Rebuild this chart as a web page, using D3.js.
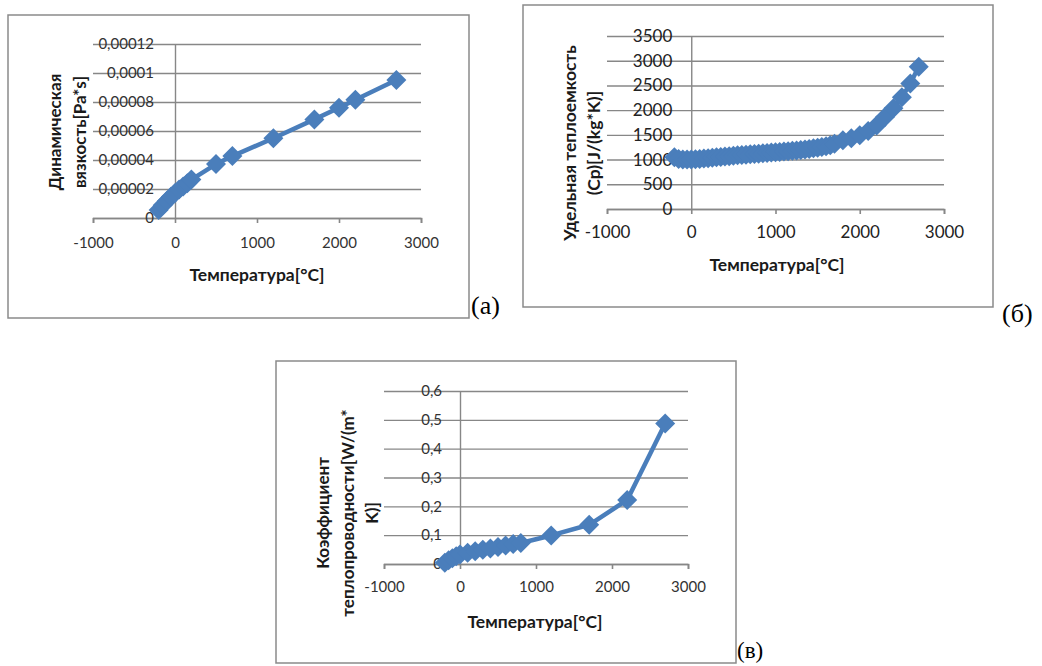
<!DOCTYPE html>
<html>
<head>
<meta charset="utf-8">
<script src="https://cdn.jsdelivr.net/npm/d3@7"></script>
<style>
  body { margin: 0; background: #fff; }
  svg { display: block; }
  .tick text { font-family: Lato, "Open Sans", sans-serif; }
</style>
</head>
<body>
<svg id="fig" width="1042" height="666"></svg>
<script>
// (а) dynamic viscosity
tempA = [-200, -150, -100, -50, 0, 50, 100, 150, 200, 500, 700, 1200, 1700, 2000, 2200, 2700];
viscA = [0.0000055, 0.0000088, 0.0000118, 0.0000146, 0.0000172, 0.0000196, 0.0000218, 0.0000240, 0.0000265,
         0.0000372, 0.0000427, 0.0000550, 0.0000680, 0.0000760, 0.0000815, 0.0000952];
yTicksA = [0, 0.00002, 0.00004, 0.00006, 0.00008, 0.0001, 0.00012];

// (б) specific heat
tempB = [-200, -150, -100, -50, 0, 50, 100, 150, 200, 250, 300, 350, 400, 450, 500, 550, 600, 650, 700, 750,
         800, 850, 900, 950, 1000, 1050, 1100, 1150, 1200, 1250, 1300, 1350, 1400, 1450, 1500, 1550, 1600, 1650, 1700,
         1800, 1900, 2000, 2100, 2200, 2300, 2400, 2500, 2600, 2700];
cpB = [1045, 1012, 1003, 1000, 1000, 1005, 1012, 1020, 1028, 1036, 1045, 1053, 1061, 1069, 1077, 1085, 1092, 1099, 1106, 1113,
       1120, 1127, 1134, 1141, 1148, 1155, 1162, 1170, 1178, 1186, 1195, 1205, 1216, 1228, 1240, 1254, 1270, 1290, 1320,
       1390, 1430, 1490, 1580, 1690, 1860, 2040, 2260, 2540, 2880];
yTicksB = [0, 500, 1000, 1500, 2000, 2500, 3000, 3500];

// (в) thermal conductivity
tempC = [-200, -150, -100, -50, 0, 100, 200, 300, 400, 500, 600, 700, 800, 1200, 1700, 2200, 2700];
kC = [0.004, 0.013, 0.020, 0.027, 0.033, 0.039, 0.044, 0.049, 0.054, 0.059, 0.064, 0.069, 0.073, 0.099, 0.136, 0.222, 0.487];
yTicksC = [0, 0.1, 0.2, 0.3, 0.4, 0.5, 0.6];

xTicks = [-1000, 0, 1000, 2000, 3000];
xTitle = "Температура[°C]";

const BLUE = "#4a7ebb";
const GRID = "#878787";
const svg = d3.select("#fig");

function fmt(v) { return String(v).replace(".", ","); }

function drawChart(c) {
  const g = svg.append("g");
  g.append("rect")
    .attr("x", c.frame[0]).attr("y", c.frame[1])
    .attr("width", c.frame[2] - c.frame[0]).attr("height", c.frame[3] - c.frame[1])
    .attr("fill", "#fff").attr("stroke", "#8a8a8a").attr("stroke-width", 1.5);

  const x = d3.scaleLinear().domain([-1000, 3000]).range(c.xr);
  const y = d3.scaleLinear().domain(c.yd).range(c.yr);

  // horizontal gridlines
  g.append("g")
    .attr("transform", "translate(" + c.xr[0] + ",0)")
    .call(d3.axisRight(y).tickValues(c.yTicks).tickSize(c.xr[1] - c.xr[0]).tickFormat(""))
    .call(s => s.select(".domain").remove())
    .selectAll("line").attr("stroke", GRID).attr("stroke-width", 1.4);

  // x axis with outside ticks
  const xa = g.append("g")
    .attr("transform", "translate(0," + y(0) + ")")
    .call(d3.axisBottom(x).tickValues(xTicks).tickSize(5).tickPadding(c.xPad).tickFormat(d => String(d)));
  xa.select(".domain").attr("stroke", GRID).attr("stroke-width", 1.6);
  xa.selectAll("line").attr("stroke", GRID).attr("stroke-width", 1.6);
  xa.selectAll("text").attr("fill", c.txt).style("font-size", c.fs + "px");

  // y axis at x = 0
  const ya = g.append("g")
    .attr("transform", "translate(" + x(0) + ",0)")
    .call(d3.axisLeft(y).tickValues(c.yTicks).tickSize(0).tickPadding(c.yPad).tickFormat(fmt));
  ya.select(".domain").attr("stroke", GRID).attr("stroke-width", 1.4);
  ya.selectAll("text").attr("fill", c.txt).style("font-size", c.fs + "px");

  // series
  const pts = c.xs.map((t, i) => [t, c.ys[i]]);
  g.append("path")
    .attr("d", d3.line().x(d => x(d[0])).y(d => y(d[1]))(pts))
    .attr("fill", "none").attr("stroke", BLUE).attr("stroke-width", 4.5)
    .attr("stroke-linejoin", "round");
  g.selectAll(".mk").data(pts).enter().append("path")
    .attr("class", "mk")
    .attr("d", d3.symbol().type(d3.symbolSquare).size(200))
    .attr("transform", d => "translate(" + x(d[0]) + "," + y(d[1]) + ") rotate(45)")
    .attr("fill", BLUE);

  // titles
  g.append("text")
    .attr("x", c.xt[0]).attr("y", c.xt[1])
    .attr("text-anchor", "middle")
    .style("font-family", "Lato, sans-serif").style("font-weight", "bold").style("font-size", c.xtfs + "px")
    .attr("fill", "#1a1a1a")
    .text(xTitle);
  c.yTitle.forEach((line, i) => {
    g.append("text")
      .attr("transform", "translate(" + c.ytx[i] + "," + c.yty + ") rotate(-90)")
      .attr("text-anchor", "middle").attr("dy", "0.35em")
      .style("font-family", "Lato, sans-serif").style("font-weight", "bold").style("font-size", c.ytfs + "px")
      .attr("fill", "#1a1a1a")
      .text(line);
  });
  svg.append("text")
    .attr("x", c.tag[0]).attr("y", c.tag[1])
    .style("font-family", "'Liberation Serif', serif").style("font-size", c.tagFs + "px")
    .attr("fill", "#000")
    .text(c.tagText);
}

drawChart({
  frame: [8, 15, 469, 318], xr: [93, 421], yd: [0, 0.00012], yr: [218, 44],
  yTicks: yTicksA, xs: tempA, ys: viscA, fs: 15, xtfs: 17.5, ytfs: 17, txt: "#333", xPad: 14, yPad: 21,
  xt: [257, 281], yTitle: ["Динамическая", "вязкость[Pa*s]"], ytx: [55, 80], yty: 132,
  tag: [471, 314], tagFs: 26, tagText: "(a)"
});
drawChart({
  frame: [523, 5, 993, 307], xr: [607, 944], yd: [0, 3500], yr: [209, 36],
  yTicks: yTicksB, xs: tempB, ys: cpB, fs: 17, xtfs: 17.5, ytfs: 17.5, txt: "#222", xPad: 12, yPad: 19,
  xt: [777, 271], yTitle: ["Удельная теплоемкость", "(Cp)[J/(kg*K)]"], ytx: [570, 594], yty: 143,
  tag: [1002, 322], tagFs: 26, tagText: "(б)"
});
drawChart({
  frame: [276, 361, 736, 663], xr: [384, 688], yd: [0, 0.6], yr: [564, 391],
  yTicks: yTicksC, xs: tempC, ys: kC, fs: 15, xtfs: 17.5, ytfs: 17, txt: "#333", xPad: 12, yPad: 18,
  xt: [535, 628], yTitle: ["Коэффициент", "теплопроводности[W/(m*", "K)]"], ytx: [323, 348, 372], yty: 513,
  tag: [737, 658], tagFs: 23, tagText: "(в)"
});
</script>
</body>
</html>
